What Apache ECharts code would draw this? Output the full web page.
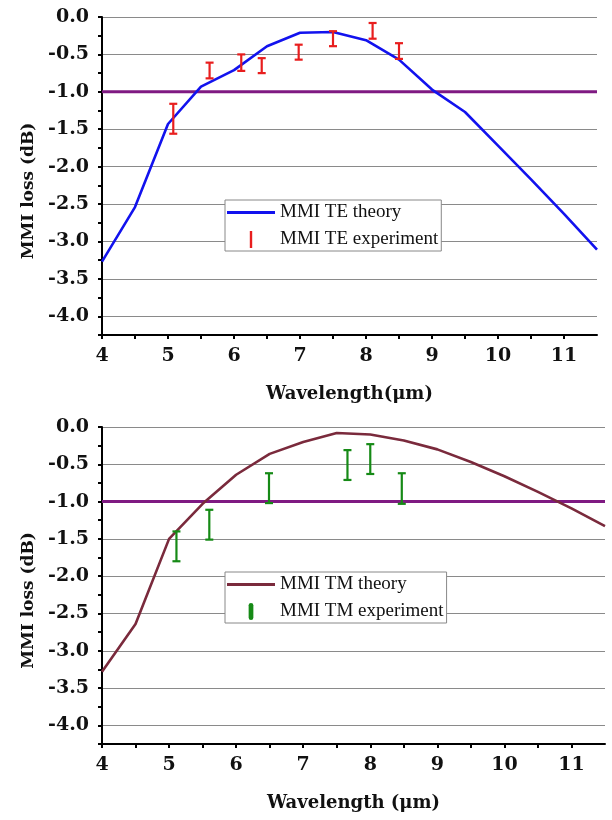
<!DOCTYPE html>
<html>
<head>
<meta charset="utf-8">
<script src="https://cdn.jsdelivr.net/npm/echarts@6/dist/echarts.min.js"></script>
<style>
html,body{margin:0;padding:0;background:#fff;}
#chart{width:612px;height:820px;}
</style>
</head>
<body>
<div id="chart"></div>
<script>
// ---- data ----
const wavelength = [4, 4.5, 5, 5.5, 6, 6.5, 7, 7.5, 8, 8.5, 9, 9.5, 10, 10.5, 11, 11.5];
const teTheory = [-3.27, -2.54, -1.43, -0.93, -0.71, -0.39, -0.21, -0.20, -0.31, -0.57, -0.97, -1.27, -1.72, -2.17, -2.63, -3.11];
const teExpX = [5.08, 5.63, 6.11, 6.42, 6.98, 7.5, 8.1, 8.5];
const teExpLow = [-1.56, -0.82, -0.72, -0.75, -0.57, -0.39, -0.29, -0.56];
const teExpHigh = [-1.16, -0.61, -0.50, -0.55, -0.37, -0.19, -0.08, -0.35];

const tmTheory = [-3.28, -2.64, -1.50, -1.03, -0.64, -0.36, -0.20, -0.08, -0.10, -0.18, -0.30, -0.47, -0.66, -0.87, -1.09, -1.33];
const tmExpX = [5.11, 5.6, 6.49, 7.66, 8.0, 8.47];
const tmExpLow = [-1.80, -1.51, -1.02, -0.71, -0.63, -1.03];
const tmExpHigh = [-1.40, -1.11, -0.62, -0.31, -0.23, -0.62];

const thresholdX = [4, 11.5];
const thresholdY = -1.0;

const yTickLabels = ['0.0', '-0.5', '-1.0', '-1.5', '-2.0', '-2.5', '-3.0', '-3.5', '-4.0'];
const xTickLabels = ['4', '5', '6', '7', '8', '9', '10', '11'];

// ---- helpers ----
const zip = (xs, ys) => xs.map((x, i) => [x, ys[i]]);
const zip3 = (xs, a, b) => xs.map((x, i) => [x, a[i], b[i]]);

function errRenderer(color, width, capHalf) {
  return function (params, api) {
    const x = api.value(0);
    const pLo = api.coord([x, api.value(1)]);
    const pHi = api.coord([x, api.value(2)]);
    const st = { stroke: color, lineWidth: width };
    return {
      type: 'group',
      children: [
        { type: 'line', shape: { x1: pLo[0], y1: pLo[1], x2: pHi[0], y2: pHi[1] }, style: st },
        { type: 'line', shape: { x1: pLo[0] - capHalf, y1: pLo[1], x2: pLo[0] + capHalf, y2: pLo[1] }, style: st },
        { type: 'line', shape: { x1: pHi[0] - capHalf, y1: pHi[1], x2: pHi[0] + capHalf, y2: pHi[1] }, style: st }
      ]
    };
  };
}

const boldFont = 'DejaVu Serif';
function yLabelFmt(v) {
  const t = Math.round(-v * 2);
  if (Math.abs(-v * 2 - t) > 1e-6) return '';
  return yTickLabels[t] !== undefined ? yTickLabels[t] : '';
}
function xLabelFmt(v) {
  const i = Math.round(v - 4);
  if (Math.abs(v - 4 - i) > 1e-6) return '';
  return xTickLabels[i] !== undefined ? xTickLabels[i] : '';
}

function makeX(gridIndex, name) {
  return {
    type: 'value', gridIndex: gridIndex, min: 4, max: 11.5, interval: 0.5,
    name: name, nameLocation: 'middle', nameGap: 50,
    nameTextStyle: { fontFamily: boldFont, fontWeight: 'bold', fontSize: 18, color: '#111' },
    axisLine: { show: true, onZero: false, lineStyle: { color: '#000', width: 2 } },
    axisTick: { show: true, inside: false, length: 4, lineStyle: { color: '#000', width: 2 } },
    axisLabel: { formatter: xLabelFmt, fontFamily: boldFont, fontWeight: 'bold', fontSize: 19, color: '#111', margin: 12, showMaxLabel: false },
    splitLine: { show: false }
  };
}
function makeY(gridIndex) {
  return {
    type: 'value', gridIndex: gridIndex, min: -4.25, max: 0, interval: 0.25,
    name: 'MMI loss (dB)', nameLocation: 'middle', nameRotate: 90, nameGap: 63,
    nameTextStyle: { fontFamily: boldFont, fontWeight: 'bold', fontSize: 17, color: '#111', padding: [0, 30, 0, 0] },
    axisLine: { show: true, onZero: false, lineStyle: { color: '#000', width: 2 } },
    axisTick: { show: true, inside: false, length: 4, lineStyle: { color: '#000', width: 2 } },
    axisLabel: { formatter: yLabelFmt, fontFamily: boldFont, fontWeight: 'bold', fontSize: 19, color: '#111', margin: 13 },
    splitLine: { show: true, lineStyle: { color: ['rgba(0,0,0,0)', '#8a8a8a'], width: 1 } }
  };
}

function makeLegend(top, names, icons) {
  return {
    left: 225, top: top, orient: 'vertical', selectedMode: false,
    backgroundColor: '#fff', borderColor: '#888', borderWidth: 1,
    padding: [3, 3, 2, 2], itemWidth: 48, itemHeight: 17, itemGap: 8,
    textStyle: { fontFamily: 'Liberation Serif', fontSize: 19, color: '#111', lineHeight: 17 },
    data: [{ name: names[0], icon: icons[0] }, { name: names[1], icon: icons[1] }]
  };
}

const lineIcon = 'path://M0,0H48V2.8H0Z';

const chart = echarts.init(document.getElementById('chart'), null, { renderer: 'canvas' });
chart.setOption({
  animation: false,
  backgroundColor: '#fff',
  grid: [
    { left: 102, right: 15, top: 17, height: 318 },
    { left: 102, right: 7, top: 427, height: 317 }
  ],
  xAxis: [makeX(0, 'Wavelength(\u03bcm)'), makeX(1, 'Wavelength (\u03bcm)')],
  yAxis: [makeY(0), makeY(1)],
  legend: [
    makeLegend(200, ['MMI TE theory', 'MMI TE experiment'], [lineIcon, 'path://M0,0H2.4V17H0Z']),
    makeLegend(572, ['MMI TM theory', 'MMI TM experiment'], [lineIcon, 'path://M0,2.5A2.5,2.5 0 0 1 5,2.5V15.5A2.5,2.5 0 0 1 0,15.5Z'])
  ],
  series: [
    {
      name: 'threshold TE', type: 'line', xAxisIndex: 0, yAxisIndex: 0, symbol: 'none', silent: true,
      data: thresholdX.map(x => [x, thresholdY]), lineStyle: { color: '#7f1a82', width: 3 }, z: 2
    },
    {
      name: 'MMI TE theory', type: 'line', xAxisIndex: 0, yAxisIndex: 0, symbol: 'none', showSymbol: false,
      data: zip(wavelength, teTheory), lineStyle: { color: '#1212ee', width: 2.6 }, itemStyle: { color: '#1212ee' }, z: 3
    },
    {
      name: 'MMI TE experiment', type: 'custom', xAxisIndex: 0, yAxisIndex: 0,
      data: zip3(teExpX, teExpLow, teExpHigh), encode: { x: 0, y: [1, 2] },
      renderItem: errRenderer('#e81e1e', 2.2, 4), itemStyle: { color: '#e81e1e' }, z: 4
    },
    {
      name: 'threshold TM', type: 'line', xAxisIndex: 1, yAxisIndex: 1, symbol: 'none', silent: true,
      data: thresholdX.map(x => [x, thresholdY]), lineStyle: { color: '#7f1a82', width: 3 }, z: 2
    },
    {
      name: 'MMI TM theory', type: 'line', xAxisIndex: 1, yAxisIndex: 1, symbol: 'none', showSymbol: false,
      data: zip(wavelength, tmTheory), lineStyle: { color: '#7a2a3c', width: 2.6 }, itemStyle: { color: '#7a2a3c' }, z: 3
    },
    {
      name: 'MMI TM experiment', type: 'custom', xAxisIndex: 1, yAxisIndex: 1,
      data: zip3(tmExpX, tmExpLow, tmExpHigh), encode: { x: 0, y: [1, 2] },
      renderItem: errRenderer('#168a16', 2.2, 4), itemStyle: { color: '#168a16' }, z: 4
    }
  ]
});
</script>
</body>
</html>
